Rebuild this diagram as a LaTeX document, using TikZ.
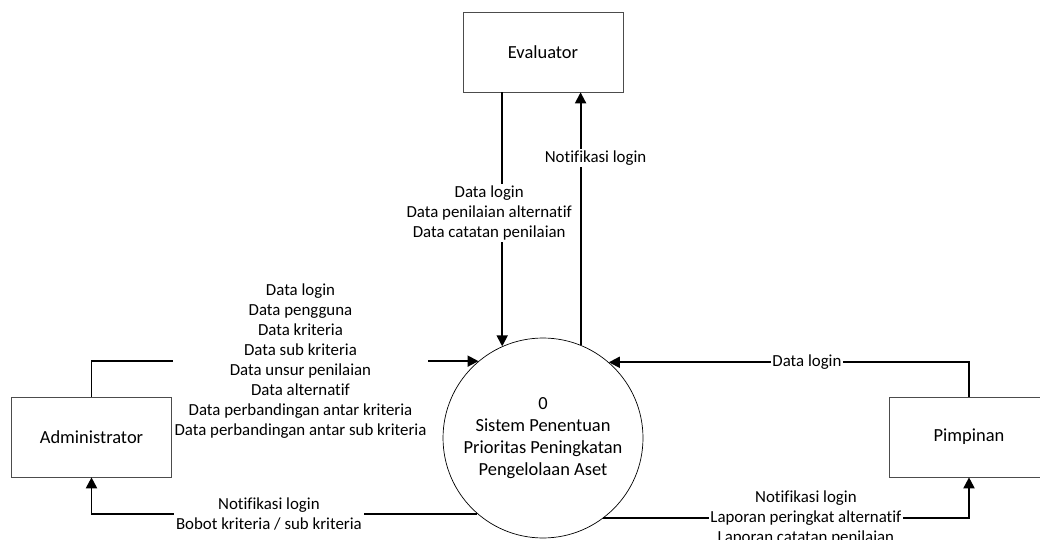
\documentclass[tikz,border=0pt]{standalone}
\usepackage{fontspec}
\setmainfont{Carlito}[Ligatures=NoCommon]
\usetikzlibrary{arrows.meta}

\begin{document}
\begin{tikzpicture}[x=0.02cm,y=-0.02cm,
        entity/.style={rectangle,draw=black!70,minimum width=3.2cm,minimum height=1.6cm,font=\fontsize{10.5}{12.5}\selectfont},
        process/.style={circle,draw,minimum size=4cm,inner sep=0pt,align=center,font=\fontsize{10.5}{12.5}\selectfont},
        flow/.style={-{Triangle[length=0.22cm,width=0.22cm]},line width=1.1pt},
        lbl/.style={fill=white,inner sep=1pt,align=center,font=\fontsize{9.6}{11.4}\selectfont}]
        \useasboundingbox (0,0) rectangle (1040,540);

        \node [entity] (evaluator) at (543,52) {Evaluator};
        \node [process] (sistem) at (543,438) {0\\Sistem Penentuan\\Prioritas Peningkatan\\Pengelolaan Aset};
        \node [entity] (admin) at (91.5,437) {Administrator};
        \node [entity] (pimpinan) at (969,437) {Pimpinan};

        \draw[flow] (admin.north) |- node[lbl,pos=0.77] {Data login\\Data pengguna\\Data kriteria\\Data sub kriteria\\Data unsur penilaian\\Data alternatif\\Data perbandingan antar kriteria\\Data perbandingan antar sub kriteria} (sistem.130);
        \draw[flow] (sistem.229) -| node[lbl,pos=0.27] {Notifikasi login\\Bobot kriteria / sub kriteria} (admin.south);
        \draw[flow] (pimpinan.north) |- node[lbl,pos=0.725] {Data login} (sistem.49);
        \draw[flow] (sistem.-53) -| node[lbl,pos=0.277] {Notifikasi login\\Laporan peringkat alternatif\\Laporan catatan penilaian} (pimpinan.south);
        \draw[flow] (evaluator.south -| sistem.114) -- node[lbl,pos=0.476,xshift=-0.26cm] {Data login\\Data penilaian alternatif\\Data catatan penilaian} (sistem.114);
        \draw[flow] (sistem.68) -- node[lbl,pos=0.74,xshift=0.3cm] {Notifikasi login} (sistem.68 |- evaluator.south);
\end{tikzpicture}
\end{document}
